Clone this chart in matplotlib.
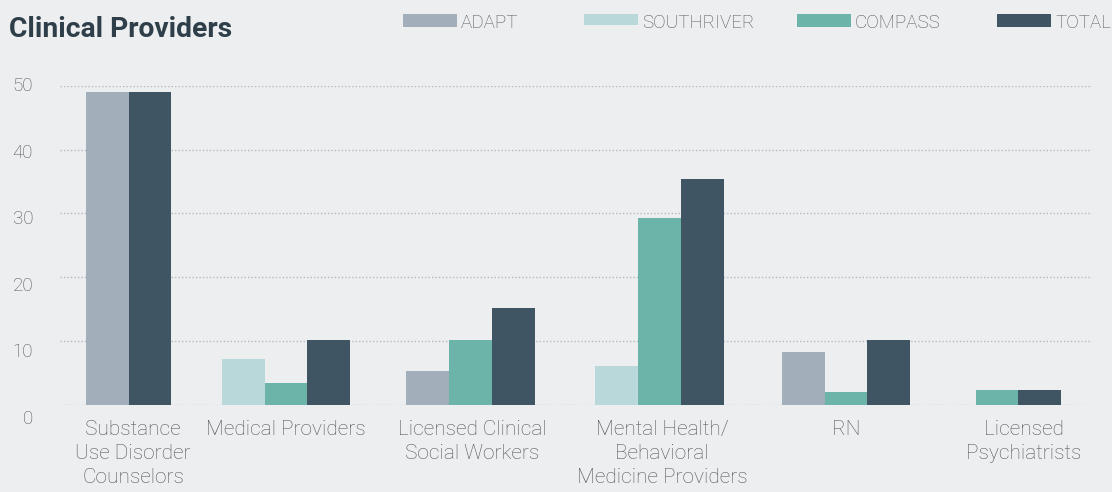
import matplotlib.pyplot as plt
from matplotlib.patches import Rectangle

categories = ['Substance\nUse Disorder\nCounselors', 'Medical Providers',
              'Licensed Clinical\nSocial Workers',
              'Mental Health/\nBehavioral\nMedicine Providers', 'RN',
              'Licensed\nPsychiatrists']
series = ['ADAPT', 'SOUTHRIVER', 'COMPASS', 'TOTAL']
adapt = [49, None, 5.3, None, 8.3, None]
southriver = [None, 7.1, None, 6.1, None, None]
compass = [None, 3.3, 10.2, 29.2, 2.0, 2.2]
total = [49, 10.2, 15.1, 35.4, 10.2, 2.2]
yticks = [0, 10, 20, 30, 40, 50]

values = [adapt, southriver, compass, total]
colors = ['#a2aeb9', '#b8d8da', '#6cb3aa', '#3f5563']
bg = '#edeef0'
text_c = '#555555'

# layout (pixels)
W, H = 1112, 492
group_x = [128.5, 286, 470.5, 659.5, 846, 1018.5]
label_x = [133, 286, 472, 662, 846.5, 1024]
bar_w = 42.7
legend_x = [403, 584, 797, 997]
swatch_h = [13, 11, 13, 13]

fig = plt.figure(figsize=(W / 100, H / 100), dpi=100, facecolor=bg)
ax = fig.add_axes([60 / W, (H - 404.5) / H, 1032 / W, 318.5 / H])
ax.set_facecolor(bg)
ax.set_xlim(60, 1092)
ax.set_ylim(0, 50)

for y in yticks:
    ax.axhline(y, color='#b3bac2', lw=1, ls=(0, (1, 1.5)), zorder=0)

for i in range(len(categories)):
    present = [(k, values[k][i]) for k in range(len(series)) if values[k][i] is not None]
    start = group_x[i] - len(present) * bar_w / 2
    for j, (k, v) in enumerate(present):
        ax.bar(start + (j + 0.5) * bar_w, v, bar_w, color=colors[k], linewidth=0, zorder=2)

for s in ax.spines.values():
    s.set_visible(False)
ax.set_yticks([])
ax.set_xticks(label_x)
ax.set_xticklabels(categories, fontsize=15, color=text_c, linespacing=1.33,
                   family='Roboto', fontweight='light')
ax.tick_params(axis='x', length=0, pad=11)

for v in yticks:
    ytop = 86 + (50 - v) * 6.66
    fig.text(33 / W, 1 - ytop / H, str(v), ha='right', va='center',
             fontsize=13.5, color=text_c, family='Roboto', fontweight='light')

for k, name in enumerate(series):
    x0 = legend_x[k]
    fig.patches.append(Rectangle((x0 / W, 1 - (14 + swatch_h[k]) / H), 54 / W, swatch_h[k] / H,
                                 transform=fig.transFigure, color=colors[k], linewidth=0))
    fig.text((x0 + 58) / W, 1 - 28.3 / H, name, va='baseline', fontsize=13.5,
             color=text_c, family='Roboto', fontweight='light')

fig.text(9 / W, 1 - 36.7 / H, 'Clinical Providers', va='baseline', fontsize=20.3,
         fontweight='bold', color='#2f3f4a', family='Roboto')

fig.savefig('out.png', dpi=100, facecolor=bg)
